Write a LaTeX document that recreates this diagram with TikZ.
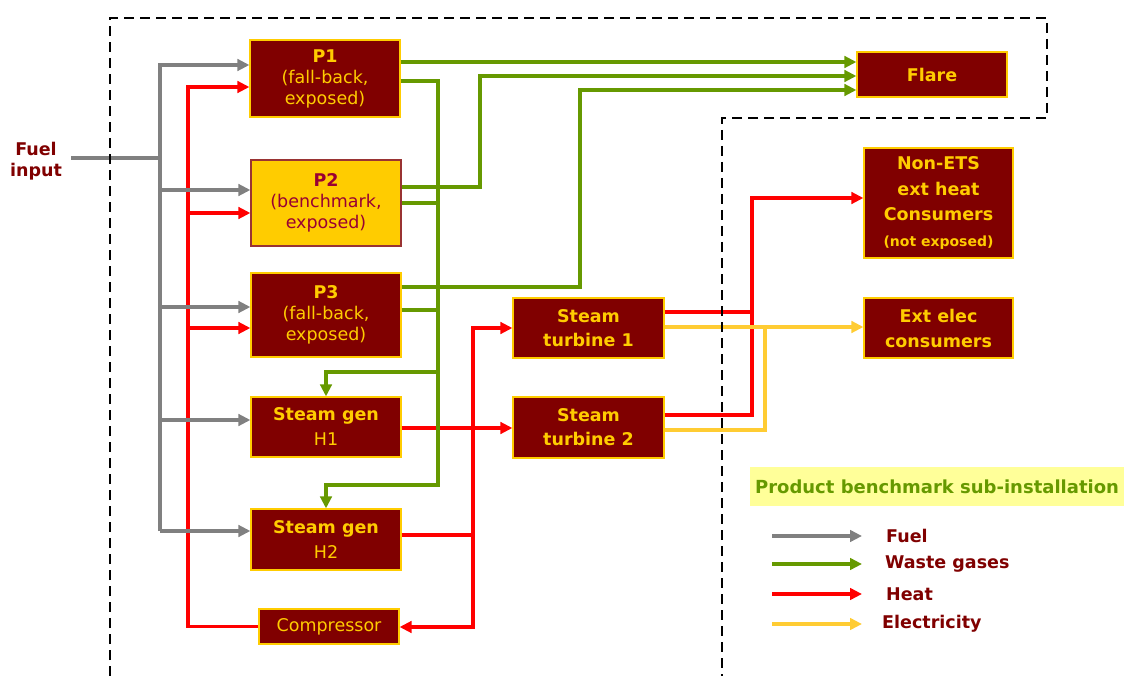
\documentclass[tikz,border=0pt]{standalone}
\usepackage{fontspec}
\setmainfont{DejaVu Sans}
\usetikzlibrary{arrows.meta}
\definecolor{boxred}{RGB}{128,0,0}
\definecolor{boxborder}{RGB}{255,204,0}
\definecolor{txty}{RGB}{255,204,0}
\definecolor{ptwofill}{RGB}{255,204,0}
\definecolor{ptwoborder}{RGB}{153,51,51}
\definecolor{ptwotext}{RGB}{153,0,51}
\definecolor{fuelc}{RGB}{128,128,128}
\definecolor{wastec}{RGB}{102,153,0}
\definecolor{heatc}{RGB}{255,0,0}
\definecolor{elecc}{RGB}{255,204,51}
\definecolor{bannerc}{RGB}{255,255,153}
\definecolor{labelc}{RGB}{128,0,0}
\begin{document}
\begin{tikzpicture}[x=1pt,y=-1pt,
  box/.style={draw=boxborder, fill=boxred, line width=1.2pt, text=txty, align=center,
    inner sep=0pt, font=\fontsize{17.5}{21}\selectfont},
  flow/.style={line width=3.3pt},
  tipped/.style={-{Triangle[length=12pt,width=11.5pt]}},
  fuel/.style={flow, draw=fuelc},
  waste/.style={flow, draw=wastec},
  heat/.style={flow, draw=heatc},
  elec/.style={flow, draw=elecc},
  lbl/.style={text=labelc, font=\bfseries\fontsize{17.5}{21}\selectfont, anchor=west, inner sep=0pt},
  boundary/.style={draw=black, line width=2.5pt, dash pattern=on 10pt off 6pt}
]
\useasboundingbox (0,0) rectangle (1126,676);

% ---------- boxes ----------
\node[box, minimum width=150pt, minimum height=77pt] (P1) at (325,78.5)
  {{\bfseries P1}\\(fall-back,\\exposed)};
\node[box, fill=ptwofill, draw=ptwoborder, text=ptwotext, minimum width=150pt, minimum height=86pt] (P2) at (326,203)
  {{\bfseries P2}\\(benchmark,\\exposed)};
\node[box, minimum width=150pt, minimum height=84pt] (P3) at (326,315)
  {{\bfseries P3}\\(fall-back,\\exposed)};
\node[box, font=\fontsize{17.5}{25}\selectfont, minimum width=150pt, minimum height=60pt] (H1) at (326,427)
  {{\bfseries Steam gen}\\H1};
\node[box, font=\fontsize{17.5}{25}\selectfont, minimum width=150pt, minimum height=61pt] (H2) at (326,539.5)
  {{\bfseries Steam gen}\\H2};
\node[box, minimum width=140pt, minimum height=35pt] (Comp) at (329,626.5) {Compressor};
\node[box, font=\bfseries\fontsize{17.5}{24}\selectfont, minimum width=151pt, minimum height=60pt] (ST1) at (588.5,328)
  {Steam\\turbine 1};
\node[box, font=\bfseries\fontsize{17.5}{24}\selectfont, minimum width=151pt, minimum height=61pt] (ST2) at (588.5,427.5)
  {Steam\\turbine 2};
\node[box, font=\bfseries\fontsize{17.5}{21}\selectfont, minimum width=150pt, minimum height=45pt] (Flare) at (932,74.5) {Flare};
\node[box, font=\bfseries\fontsize{17.5}{25.5}\selectfont, minimum width=149pt, minimum height=110pt] (NonETS) at (938.5,203)
  {Non-ETS\\ext heat\\Consumers\\{\fontsize{14}{25.5}\selectfont(not exposed)}};
\node[box, font=\bfseries\fontsize{17.5}{25}\selectfont, minimum width=149pt, minimum height=60pt] (ExtElec) at (938.5,328)
  {Ext elec\\consumers};

\node[text=labelc, font=\bfseries\fontsize{17.5}{21}\selectfont, align=center, inner sep=0pt] (Fuelin) at (36,161) {Fuel\\input};

% ---------- heat (red) ----------
\coordinate (rA) at (188,87);
\coordinate (rP2) at (188,213);
\coordinate (rP3) at (188,328);
\draw[heat, tipped] (Comp.west) -| (rA) -- (rA -| P1.west);
\draw[heat, tipped] (rP2) -- (rP2 -| P2.west);
\draw[heat, tipped] (rP3) -- (rP3 -| P3.west);

\coordinate (rH1) at (401,428);
\draw[heat, tipped] (rH1 -| H1.east) -- (rH1 -| ST2.west);

\coordinate (rC) at (473,535);
\coordinate (rTop) at (473,328);
\coordinate (rBot) at (473,627);
\draw[heat] (rC -| H2.east) -- (rC);
\draw[heat, tipped] (rBot) -- (rTop) -- (rTop -| ST1.west);
\draw[heat, tipped] (rC) -- (rBot) -- (rBot -| Comp.east);

\coordinate (n1) at (752,312);
\coordinate (n2) at (752,415);
\coordinate (n3) at (752,198);
\draw[heat] (n1 -| ST1.east) -- (n1);
\draw[heat, tipped] (n2 -| ST2.east) -- (n2) -- (n3) -- (n3 -| NonETS.west);

% ---------- fuel (grey) ----------
\coordinate (fin) at (71,158);
\coordinate (fj) at (160,158);
\coordinate (gA) at (160,65);
\coordinate (gB) at (160,190);
\coordinate (gC) at (160,307);
\coordinate (gD) at (160,420);
\coordinate (gE) at (160,531);
\draw[fuel] (fin) -- (fj);
\draw[fuel, tipped] (gE) -- (gA) -- (gA -| P1.west);
\draw[fuel, tipped] (gB) -- (gB -| P2.west);
\draw[fuel, tipped] (gC) -- (gC -| P3.west);
\draw[fuel, tipped] (gD) -- (gD -| H1.west);
\draw[fuel, tipped] (gE) -- (gE -| H2.west);

% ---------- waste gases (green) ----------
\coordinate (w1) at (400,62);
\draw[waste, tipped] (w1 -| P1.east) -- (w1 -| Flare.west);
\coordinate (w2a) at (480,187);
\coordinate (w2b) at (480,76);
\draw[waste, tipped] (w2a -| P2.east) -- (w2a) -- (w2b) -- (w2b -| Flare.west);
\coordinate (w3a) at (580,287);
\coordinate (w3b) at (580,90);
\draw[waste, tipped] (w3a -| P3.east) -- (w3a) -- (w3b) -- (w3b -| Flare.west);

\coordinate (gb1) at (438,81);
\coordinate (gb2) at (438,203);
\coordinate (gb3) at (438,310);
\coordinate (gbH1) at (438,372);
\coordinate (gbBot) at (438,485);
\draw[waste, tipped] (gb1 -| P1.east) -- (gb1) -- (gbBot) -| (H2.north);
\draw[waste] (gb2 -| P2.east) -- (gb2);
\draw[waste] (gb3 -| P3.east) -- (gb3);
\draw[waste, tipped] (gbH1) -| (H1.north);

% ---------- electricity (yellow) ----------
\coordinate (e1) at (765,327);
\coordinate (e2) at (765,430);
\draw[elec, tipped] (e1 -| ST1.east) -- (e1 -| ExtElec.west);
\draw[elec] (e2 -| ST2.east) -- (e2) -- (e1);

% ---------- boundary ----------
\draw[boundary] (110,676) -- (110,18) -- (1047,18) -- (1047,118) -- (722,118) -- (722,676);

% ---------- legend ----------
\node[fill=bannerc, minimum width=374pt, minimum height=39pt, inner sep=0pt,
      text=wastec, font=\bfseries\fontsize{18}{21}\selectfont] (banner) at (937,486.5)
  {Product benchmark sub-installation};

\coordinate (l1s) at (772,536); \coordinate (l1e) at (862,536);
\coordinate (l2s) at (772,564); \coordinate (l2e) at (862,564);
\coordinate (l3s) at (772,594); \coordinate (l3e) at (862,594);
\coordinate (l4s) at (772,624); \coordinate (l4e) at (862,624);
\draw[fuel, tipped] (l1s) -- (l1e);
\draw[waste, tipped] (l2s) -- (l2e);
\draw[heat, tipped] (l3s) -- (l3e);
\draw[elec, tipped] (l4s) -- (l4e);
\node[lbl] (lf) at (886,536) {Fuel};
\node[lbl] (lw) at (885,564) {Waste gases};
\node[lbl] (lh) at (886,594) {Heat};
\node[lbl] (le) at (882,624) {Electricity};
\end{tikzpicture}
\end{document}
